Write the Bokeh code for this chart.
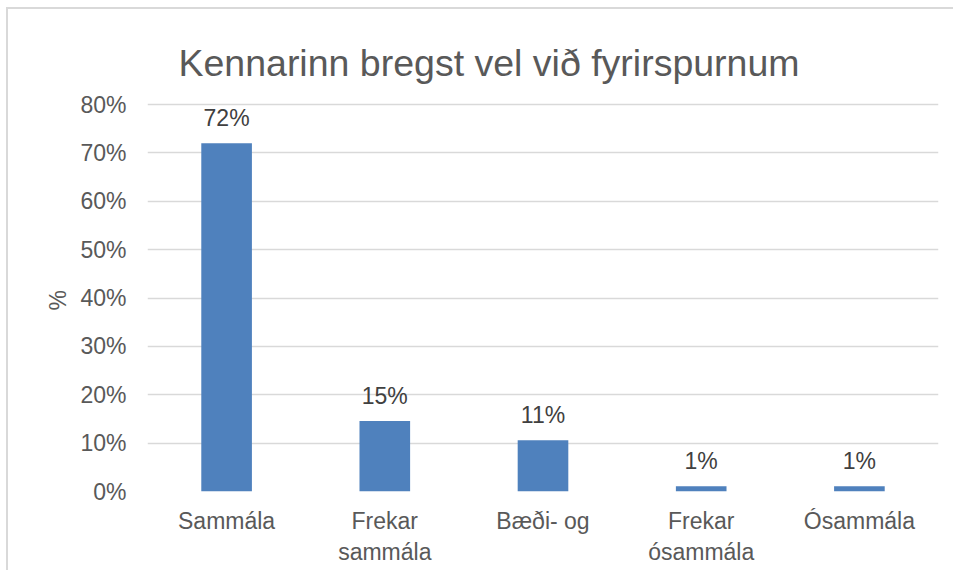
from bokeh.plotting import figure
from bokeh.models import ColumnDataSource, Range1d, FixedTicker, PrintfTickFormatter, LabelSet, Label, FactorRange
from bokeh.core.properties import value
from bokeh.embed import file_html
from bokeh.resources import INLINE

# ---- data ----
categories = ["Sammála", "Frekar\nsammála", "Bæði- og", "Frekar\nósammála", "Ósammála"]
values = [72.0, 14.6, 10.6, 1.1, 1.1]
value_labels = ["72%", "15%", "11%", "1%", "1%"]
y_ticks = [0, 10, 20, 30, 40, 50, 60, 70, 80]
title_text = "Kennarinn bregst vel við fyrirspurnum"
y_label = "%"

FONT = "Liberation Sans"
GREY = "#595959"

src = ColumnDataSource(dict(cat=categories, val=values, lab=value_labels))

# the frame reaches up into the title area so that the title label is not clipped;
# ticks and grid lines stop at 80 %
p = figure(
    x_range=FactorRange(*categories, range_padding=0),
    y_range=Range1d(0, 97.6),
    width=947, height=563, title=None,
    output_backend="svg", toolbar_location=None,
    min_border_left=139, min_border_right=17,
    min_border_top=10, min_border_bottom=81,
)
p.styles = {
    "margin-left": "6px", "margin-top": "7px",
    "border-left": "2px solid #d9d9d9", "border-top": "2px solid #d9d9d9",
}
p.outline_line_color = None
p.background_fill_color = "white"
p.border_fill_color = "white"

# title, centred over the whole chart
title = Label(x=len(categories) / 2, y=y_ticks[-1], text=title_text, x_offset=-54, y_offset=42,
              text_align="center", text_baseline="alphabetic",
              text_font=FONT, text_font_size="37.5px", text_color=GREY)
p.add_layout(title)

# bars
p.vbar(x="cat", top="val", width=0.32, source=src, fill_color="#4F81BD", line_color=None)

# value labels
labels = LabelSet(x="cat", y="val", text="lab", source=src, text_align="center",
                  text_baseline="alphabetic", y_offset=17, text_font=value(FONT),
                  text_font_size="23px", text_color="#404040")
p.add_layout(labels)

# grid
p.xgrid.grid_line_color = None
p.ygrid.grid_line_color = "#d9d9d9"
p.ygrid.grid_line_width = 1.5
p.ygrid.ticker = FixedTicker(ticks=y_ticks)

# y axis
p.yaxis.ticker = FixedTicker(ticks=y_ticks)
p.yaxis.formatter = PrintfTickFormatter(format="%d%%")
p.yaxis.axis_line_color = None
p.yaxis.major_tick_line_color = None
p.yaxis.minor_tick_line_color = None
p.yaxis.major_tick_in = 0
p.yaxis.major_tick_out = 0
p.yaxis.minor_tick_in = 0
p.yaxis.minor_tick_out = 0
p.yaxis.major_label_standoff = 21
p.yaxis.major_label_text_font = FONT
p.yaxis.major_label_text_font_size = "23px"
p.yaxis.major_label_text_color = GREY
# non-breaking spaces push the centred "%" down to the middle of the 0-80 % band
p.yaxis.axis_label = y_label + "\u00a0" * 14
p.yaxis.axis_label_standoff = 6
p.yaxis.axis_label_text_font = FONT
p.yaxis.axis_label_text_font_size = "23px"
p.yaxis.axis_label_text_font_style = "normal"
p.yaxis.axis_label_text_color = GREY

# x axis
p.xaxis.axis_line_color = None
p.xaxis.major_tick_line_color = None
p.xaxis.minor_tick_line_color = None
p.xaxis.major_tick_in = 0
p.xaxis.major_tick_out = 0
p.xaxis.major_label_standoff = 16
p.xaxis.major_label_text_font = FONT
p.xaxis.major_label_text_font_size = "23px"
p.xaxis.major_label_text_color = GREY

open("out.html", "w").write(file_html(p, INLINE))
